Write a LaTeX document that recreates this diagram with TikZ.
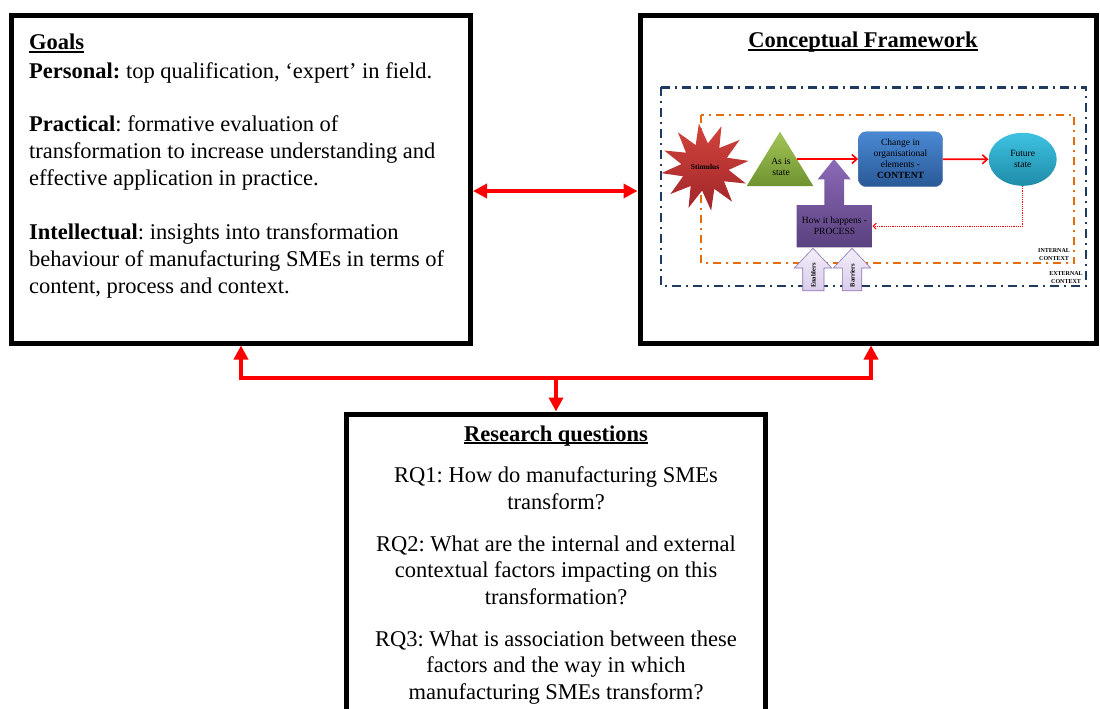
\documentclass[tikz,border=0pt]{standalone}
\usepackage{fontspec}
\setmainfont{Liberation Serif}
\usetikzlibrary{arrows.meta,shapes.geometric,calc}
\frenchspacing

\definecolor{ctxnavy}{HTML}{1F3A5F}
\definecolor{ctxorange}{HTML}{E46C0A}
\definecolor{stimtop}{HTML}{D2443C}
\definecolor{stimbot}{HTML}{A0262A}
\definecolor{asistop}{HTML}{A2C457}
\definecolor{asisbot}{HTML}{6F9331}
\definecolor{conttop}{HTML}{4A8AD4}
\definecolor{contbot}{HTML}{2A5896}
\definecolor{futtop}{HTML}{3EC2E2}
\definecolor{futbot}{HTML}{1E8CA8}
\definecolor{proctop}{HTML}{8C6AB8}
\definecolor{procbot}{HTML}{5A417F}
\definecolor{lavtop}{HTML}{F3EEF9}
\definecolor{lavbot}{HTML}{D9CCEA}
\definecolor{lavline}{HTML}{8A70B0}

% underlined bold heading with a Word-like rule just under the baseline
\newcommand{\headline}[1]{\setbox0\hbox{\textbf{#1}}\rlap{\rule[-2.6pt]{\wd0}{1.4pt}}\box0}

\begin{document}
\begin{tikzpicture}[x=1pt,y=-1pt,
  frame/.style={draw=black, line width=5pt, inner sep=0pt, line join=miter},
  bigred/.style={draw=red, line width=4pt, line join=miter},
  body/.style={font=\fontsize{22.5}{26.8}\selectfont, inner sep=0pt},
  rqtext/.style={font=\fontsize{22.5}{26.5}\selectfont, inner sep=0pt, align=center, anchor=base},
  fwtext/.style={font=\fontsize{9.5}{11}\selectfont, inner sep=0pt, align=center, text=black},
  ctxlabel/.style={font=\bfseries\fontsize{6}{8}\selectfont, inner sep=0pt, align=center, anchor=base},
  fwarrow/.style={draw=red, line width=1.6pt, -{Straight Barb[length=5pt,width=9pt]}},
  navydash/.style={draw=ctxnavy, line width=2.4pt, dash pattern=on 9pt off 5pt on 2pt off 5pt},
  orangedash/.style={draw=ctxorange, line width=2pt, dash pattern=on 8pt off 5pt on 2pt off 5pt},
  lavarrow/.style={top color=lavtop, bottom color=lavbot, draw=lavline, line width=0.6pt},
  vlabel/.style={rotate=90, font=\bfseries\fontsize{6.5}{7}\selectfont, inner sep=0pt}
]
\useasboundingbox (0,0) rectangle (1100,709);
\begin{scope}
\clip (0,0) rectangle (1100,709);

% ---------- the three frames ----------
\node[frame, minimum width=459pt, minimum height=327pt] (goals) at (241,179.5) {};
\node[frame, minimum width=456pt, minimum height=327pt] (concept) at (868,179.5) {};
\node[frame, minimum width=419pt, minimum height=316pt] (research) at (555.5,572) {};

% ---------- goals text (multi-line nodes sit on the baseline of their last line) ----------
\node[body, anchor=base west] (gtitle) at (29,50) {\headline{Goals}};
\node[body, anchor=base west] (gpers) at (29,78) {\textbf{Personal:} top qualification, ‘expert’ in field.};
\node[body, anchor=base west, align=left] (gprac) at (29,185.5)
  {\textbf{Practical}: formative evaluation of\\
   transformation to increase understanding and\\
   effective application in practice.};
\node[body, anchor=base west, align=left] (gint) at (29,293)
  {\textbf{Intellectual}: insights into transformation\\
   behaviour of manufacturing SMEs in terms of\\
   content, process and context.};

% ---------- research questions text ----------
\node[rqtext] (rtitle) at (556,441) {\headline{Research questions}};
\node[rqtext] (rq1) at (556,509) {RQ1: How do manufacturing SMEs\\transform?};
\node[rqtext] (rq2) at (556,604) {RQ2: What are the internal and external\\contextual factors impacting on this\\transformation?};
\node[rqtext] (rq3) at (556,699) {RQ3: What is association between these\\factors and the way in which\\manufacturing SMEs transform?};

% ---------- conceptual framework ----------
\node[body, anchor=base] (ctitle) at (863,48) {\headline{Conceptual Framework}};

% context borders
\draw[navydash] (660.7,87.3) rectangle (1086,286);
\draw[orangedash] (701,115) rectangle (1074.3,263.3);

% stimulus
\node[star, star points=12, star point ratio=1.85, minimum size=88pt, inner sep=0pt,
      shape border rotate=8,
      top color=stimtop, bottom color=stimbot, fwtext, font=\bfseries\fontsize{7.5}{9}\selectfont]
      (stim) at (705,167) {Stimulus};

% as-is state triangle
\shade[top color=asistop, bottom color=asisbot] (780,131.7) -- (813.3,186) -- (746.7,186) -- cycle;
\node[fwtext] (asis) at (781,167) {As is\\state};
\coordinate (asisr) at (796.5,159);

% content
\node[rectangle, rounded corners=8pt, minimum width=84.4pt, minimum height=55pt,
      top color=conttop, bottom color=contbot, draw=contbot!80!white, line width=0.4pt,
      fwtext] (content) at (900.5,159.2) {Change in\\organisational\\elements -\\\textbf{CONTENT}};

% future state
\node[ellipse, minimum width=68pt, minimum height=53pt, inner sep=0pt,
      top color=futtop, bottom color=futbot, fwtext] (future) at (1022.7,159.3) {Future\\state};

% process block with its upward arrow
\shade[top color=proctop, bottom color=procbot]
  (796.7,205) -- (824.3,205) -- (824.3,179.3) -- (817.7,179.3) -- (834,159)
  -- (850.7,179.3) -- (844,179.3) -- (844,205) -- (872.3,205) -- (872.3,247.3)
  -- (796.7,247.3) -- cycle;
\node[rectangle, minimum width=75.6pt, minimum height=42.3pt, inner sep=0pt, fwtext]
  (proc) at (834.5,226.2) {How it happens -\\PROCESS};

% enablers and barriers
\draw[lavarrow] (802.7,290.7) -- (802.7,268) -- (794.3,268) -- (813,248.3) -- (831.7,268)
  -- (824,268) -- (824,290.7) -- cycle;
\draw[lavarrow] (842.3,290.7) -- (842.3,268) -- (833.3,268) -- (852,248.3) -- (870.7,268)
  -- (861.7,268) -- (861.7,290.7) -- cycle;
\node[vlabel] (enab) at (813.3,275.5) {Enablers};
\node[vlabel] (barr) at (852.3,275.5) {Barriers};

% flows
\draw[fwarrow] (asisr) -- (content.west |- asisr);
\draw[fwarrow] (content.east) -- (future.west);
\draw[draw=red, line width=1pt, dash pattern=on 1.2pt off 1pt,
      -{Straight Barb[length=3pt,width=6pt]}] (future.south) |- (proc.east);

% context labels
\node[ctxlabel] (intctx) at (1054,260) {INTERNAL\\CONTEXT};
\node[ctxlabel] (extctx) at (1066,283) {EXTERNAL\\CONTEXT};

% ---------- links between the frames ----------
\coordinate (gm) at (556,191);
\coordinate (lft) at (241,378);
\coordinate (rgt) at (871,378);
\coordinate (hub) at (556,378);
\draw[bigred, {Triangle[length=14pt,width=14pt]}-{Triangle[length=14pt,width=14pt]}]
  (goals.east |- gm) -- (concept.west |- gm);
\draw[bigred, {Triangle[length=14pt,width=14pt]}-{Triangle[length=14pt,width=14pt]}]
  (goals.south -| lft) -- (lft) -- (rgt) -- (concept.south -| rgt);
\draw[bigred, -{Triangle[length=14pt,width=14pt]}] (hub) -- (research.north -| hub);
\end{scope}
\end{tikzpicture}
\end{document}
